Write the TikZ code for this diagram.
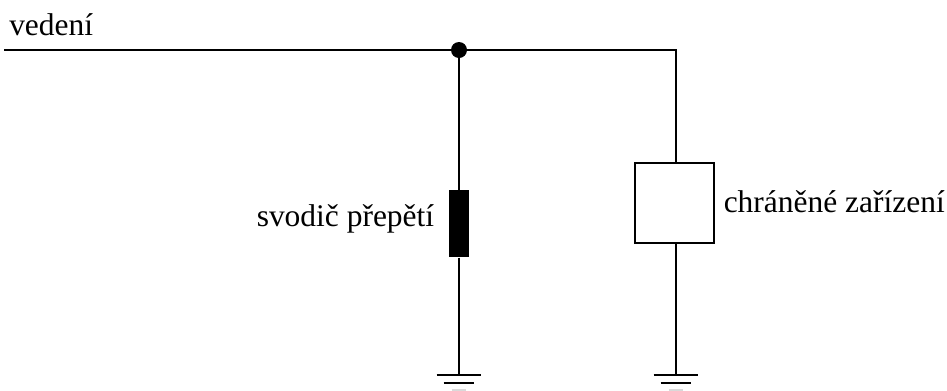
\documentclass[tikz,border=0pt]{standalone}
\usepackage{fontspec}
\setmainfont{Liberation Serif}
\tikzset{
  wire/.style={line width=1.5pt,black},
  heavywire/.style={line width=2.1pt,black},
  lbl/.style={inner sep=0pt,font=\fontsize{23.6}{26}\selectfont,anchor=base west},
  dot/.style={circle,fill=black,inner sep=0pt,minimum size=12pt},
  arrester/.style={rectangle,fill=black,draw=none,inner sep=0pt,minimum width=14.5pt,minimum height=50.5pt},
  devicebox/.style={rectangle,draw=black,fill=white,line width=1.6pt,inner sep=0pt,minimum width=59.7pt,minimum height=60pt}
}
\begin{document}
\begin{tikzpicture}[x=0.75pt,y=-0.75pt]
\useasboundingbox (0,0) rectangle (947,390);
\coordinate (start) at (4,50);
\coordinate (corner) at (675.5,50);
\node[dot] (junction) at (459,50) {};
\node[arrester] (svodic) at (459,223.7) {};
\node[devicebox] (zarizeni) at (674.5,203) {};
\coordinate (g1) at (459,375);
\coordinate (g2) at (676,375);
\draw[wire] (start) -- (junction);
\draw[wire,line cap=rect] (junction) -- (corner);
\draw[wire] (corner) -- (corner |- zarizeni.north);
\draw[heavywire] (junction) -- (svodic);
\draw[heavywire] (svodic) -- (g1);
\draw[wire] (zarizeni.south -| g2) -- (g2);
\foreach \g in {g1,g2}{
  \draw[wire] ([xshift=-16.7pt]\g) -- ([xshift=16.7pt]\g);
  \draw[wire] ([xshift=-11.5pt,yshift=-6pt]\g) -- ([xshift=11.5pt,yshift=-6pt]\g);
  \draw[wire,black!15] ([xshift=-5.5pt,yshift=-10.9pt]\g) -- ([xshift=5.5pt,yshift=-10.9pt]\g);
}
\node[lbl] (lvedeni) at (9,35) {vedení};
\node[lbl] (lsvodic) at (256.5,226.5) {svodič přepětí};
\node[lbl] (lzar) at (723.5,212) {chráněné zařízení};
\end{tikzpicture}
\end{document}
